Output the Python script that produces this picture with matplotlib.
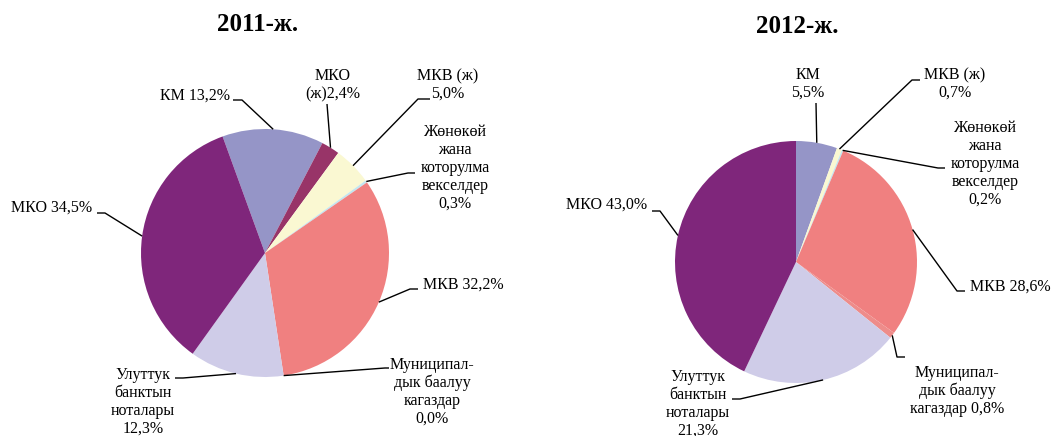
import matplotlib
matplotlib.use("Agg")
import matplotlib.pyplot as plt
import numpy as np

plt.rcParams['font.family'] = ['Liberation Serif', 'DejaVu Serif']

W, H = 1055, 436

# ---- data ----
cats_2011 = ["КМ", "МКО (ж)", "МКВ (ж)", "Жөнөкөй жана которулма векселдер",
             "МКВ", "Муниципалдык баалуу кагаздар", "Улуттук банктын ноталары", "МКО"]
vals_2011 = [13.2, 2.4, 5.0, 0.3, 32.2, 0.0, 12.3, 34.5]
labels_2011 = ["КМ 13,2%", "МКО\n(ж)2,4%", "МКВ (ж)\n5,0%",
               "Жөнөкөй\nжана\nкоторулма\nвекселдер\n0,3%", "МКВ 32,2%",
               "Муниципал-\nдык баалуу\nкагаздар\n0,0%",
               "Улуттук\nбанктын\nноталары\n12,3%", "МКО 34,5%"]

cats_2012 = ["КМ", "МКВ (ж)", "Жөнөкөй жана которулма векселдер",
             "МКВ", "Муниципалдык баалуу кагаздар", "Улуттук банктын ноталары", "МКО"]
vals_2012 = [5.5, 0.7, 0.2, 28.6, 0.8, 21.3, 43.0]
labels_2012 = ["КМ\n5,5%", "МКВ (ж)\n0,7%",
               "Жөнөкөй\nжана\nкоторулма\nвекселдер\n0,2%", "МКВ 28,6%",
               "Муниципал-\nдык баалуу\nкагаздар 0,8%",
               "Улуттук\nбанктын\nноталары\n21,3%", "МКО 43,0%"]

titles = ["2011-ж.", "2012-ж."]

colors = {
    "КМ": "#9595C7",
    "МКО (ж)": "#983468",
    "МКВ (ж)": "#FAF8D2",
    "Жөнөкөй жана которулма векселдер": "#C3E6EF",
    "МКВ": "#F08080",
    "Муниципалдык баалуу кагаздар": "#EE8C8A",
    "Улуттук банктын ноталары": "#CFCCE8",
    "МКО": "#7F267B",
}

# ---- layout (image pixel coords, y down) ----
pies = [
    dict(cats=cats_2011, vals=vals_2011, labels=labels_2011, center=(265, 253), r=124,
         start=110, title=titles[0], title_xy=(258, 25),
         # text center, elbow point, tail point (where line meets text)
         lay=[((195, 96), (242, 100), (233, 100)),
              ((333, 85), (327, 104), (327, 104)),
              ((448, 85), (418, 99), (430, 99)),
              ((455, 168), (408, 173), (415, 173)),
              ((463, 285), (410, 289), (418, 289)),
              ((432, 392), (385, 368), (389, 368)),
              ((143, 402), (183, 378), (175, 378)),
              ((52, 208), (105, 213), (97, 213))]),
    dict(cats=cats_2012, vals=vals_2012, labels=labels_2012, center=(796, 262), r=121,
         start=90, title=titles[1], title_xy=(797, 27),
         lay=[((808, 84), (816, 103), (816, 103)),
              ((955, 84), (912, 80), (920, 80)),
              ((985, 164), (938, 168), (945, 168)),
              ((1010, 287), (957, 291), (965, 291)),
              ((957, 391), (897, 357), (905, 357)),
              ((698, 404), (740, 399), (732, 399)),
              ((607, 205), (660, 211), (652, 211))]),
]

fig = plt.figure(figsize=(W / 100, H / 100), dpi=100)
ax = fig.add_axes([0, 0, 1, 1])

def Y(y):
    return H - y

for p in pies:
    cx, cy = p["center"]
    wedges, _ = ax.pie(p["vals"], colors=[colors[c] for c in p["cats"]],
                       startangle=p["start"], counterclock=False,
                       center=(cx, Y(cy)), radius=p["r"],
                       wedgeprops=dict(linewidth=0))
    for w, lab, (txy, elbow, tail) in zip(wedges, p["labels"], p["lay"]):
        th = np.deg2rad((w.theta1 + w.theta2) / 2)
        ex = cx + p["r"] * np.cos(th)
        ey = Y(cy) + p["r"] * np.sin(th)
        ax.plot([ex, elbow[0], tail[0]], [ey, Y(elbow[1]), Y(tail[1])],
                color="black", lw=1.0, solid_capstyle="butt")
        ax.text(txy[0], Y(txy[1]), lab, ha="center", va="center",
                fontsize=11.5, linespacing=1.15)
    ax.text(p["title_xy"][0], Y(p["title_xy"][1]), p["title"],
            ha="center", va="center", fontsize=18, fontweight="bold")

ax.set_xlim(0, W)
ax.set_ylim(0, H)
ax.set_aspect("equal")
ax.axis("off")

fig.savefig("out.png", dpi=100, facecolor="white")
